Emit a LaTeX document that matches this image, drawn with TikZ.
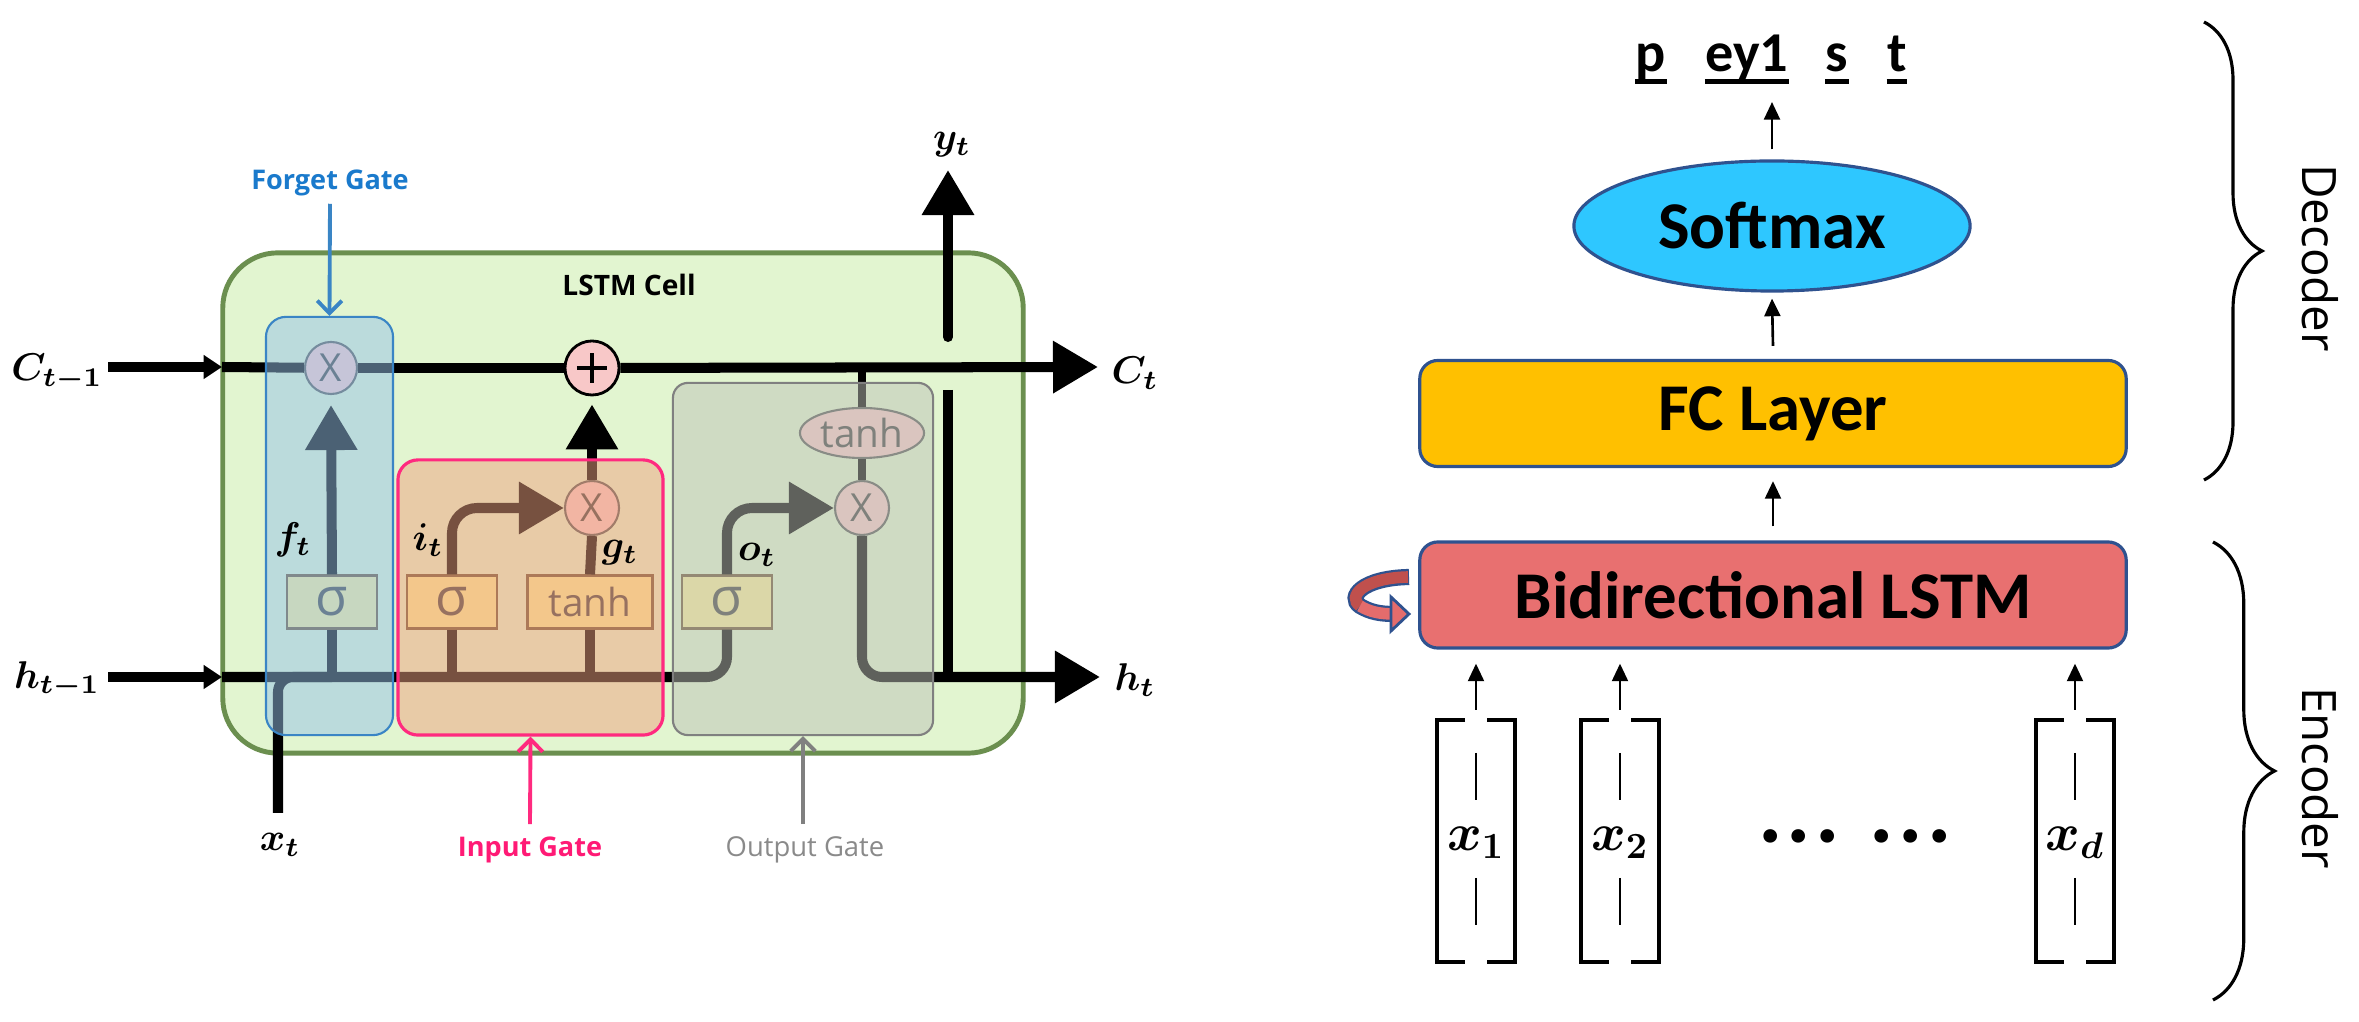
\RequirePackage{fix-cm}
\documentclass[tikz,border=0pt]{standalone}
\usepackage{amsmath}
\usepackage{fontspec}
\setmainfont{Carlito}
\newfontfamily\osans{Open Sans}
\usetikzlibrary{arrows.meta,shapes.geometric,decorations.pathreplacing}
\definecolor{cellfill}{HTML}{E2F5D0}
\definecolor{cellborder}{HTML}{6B8F4F}
\definecolor{sigfill}{HTML}{FAED98}
\definecolor{sigborder}{HTML}{6B5030}
\definecolor{opfill}{HTML}{F8C8C8}
\definecolor{opborder}{HTML}{555555}
\definecolor{optext}{HTML}{404040}
\definecolor{fgfill}{HTML}{96C3E8}
\definecolor{fgborder}{HTML}{3A85C5}
\definecolor{igfill}{HTML}{EEA380}
\definecolor{igborder}{HTML}{FF2A7F}
\definecolor{ogfill}{HTML}{BEC3B8}
\definecolor{ogborder}{HTML}{808080}
\definecolor{fgtext}{HTML}{1A7ACC}
\definecolor{igtext}{HTML}{FF1A75}
\definecolor{ogtext}{HTML}{8A8A8A}
\definecolor{boxborder}{HTML}{2F528F}
\definecolor{softfill}{HTML}{2EC7FF}
\definecolor{fcfill}{HTML}{FFC000}
\definecolor{lstmfill}{HTML}{E87070}
\definecolor{arrdark}{HTML}{C0504D}
\definecolor{arrlight}{HTML}{E46C6C}
\tikzset{
  wire/.style={line width=2.85pt},
  wirethin/.style={line width=2.3pt},
  bighead/.style={-{Triangle[length=12.8pt,width=14.2pt]}},
  smallhead/.style={-{Triangle[length=5.2pt,width=6.5pt]}},
  gatearrow/.style={line width=1.1pt,-{Straight Barb[length=3.5pt,width=7pt]}},
  sigbox/.style={draw=sigborder, fill=sigfill, line width=0.6pt, inner sep=0pt,
    minimum height=0.53cm, text=optext, font=\osans\fontsize{15}{15}\selectfont},
  opcirc/.style={circle, draw=opborder, fill=opfill, line width=0.6pt, inner sep=0pt,
    minimum size=0.52cm, text=optext, font=\osans\fontsize{11}{11}\selectfont},
  gate/.style={rounded corners=0.2cm, fill opacity=0.5, inner sep=0pt},
  mlab/.style={inner sep=0pt, font=\fontsize{11}{13}\selectfont},
  layerbox/.style={draw=boxborder, line width=0.9pt, rounded corners=0.18cm,
    minimum width=7.06cm, minimum height=1.06cm, font=\bfseries\fontsize{19}{23}\selectfont},
  thinarrow/.style={line width=0.75pt, -{Triangle[length=5pt,width=4.5pt]}},
  vecline/.style={line width=1.3pt},
  gatelabel/.style={inner sep=0pt, font=\osans\bfseries\fontsize{7.7}{9}\selectfont},
}
\begin{document}
\begin{tikzpicture}[x=0.01cm,y=-0.01cm]
\useasboundingbox (0,0) rectangle (2359,1022);

% ---------------- LSTM cell ----------------
\node[draw=cellborder, fill=cellfill, line width=1.4pt, rounded corners=0.55cm,
  minimum width=8cm, minimum height=5cm, inner sep=0pt] (cell) at (623,503) {};

% operation nodes
\node[sigbox, minimum width=0.9cm] (sigF) at (332,602) {σ};
\node[sigbox, minimum width=0.9cm] (sigI) at (452,602) {σ};
\node[sigbox, minimum width=1.25cm, font=\osans\fontsize{11}{11}\selectfont] (tanhB) at (590,602) {tanh};
\node[sigbox, minimum width=0.9cm] (sigO) at (727,602) {σ};
\node[opcirc] (xF) at (331,368) {X};
\node[opcirc, draw=black, line width=0.8pt, minimum size=0.54cm] (plus) at (592,368) {};
\draw[line width=0.9pt] ([xshift=-0.15cm]plus.center) -- ([xshift=0.15cm]plus.center);
\draw[line width=0.9pt] ([yshift=-0.15cm]plus.center) -- ([yshift=0.15cm]plus.center);
\node[opcirc, minimum size=0.54cm] (xI) at (592,508) {X};
\node[opcirc, minimum size=0.54cm] (xO) at (862,508) {X};
\node[ellipse, draw=opborder, fill=opfill, line width=0.6pt, inner sep=0pt,
  minimum width=1.24cm, minimum height=0.5cm, text=optext,
  font=\osans\fontsize{11}{11}\selectfont] (tanhE) at (862,433) {tanh};

% cell state line
\coordinate (cA) at (108,367);
\coordinate (cB) at (222,367);
\coordinate (cOut) at (1098,367);
\draw[wire, smallhead] (cA) -- (cB);
\draw[wire] (cB) -- (xF);
\draw[wire] (xF) -- (plus);
\draw[wire, bighead] (plus) -- (cOut);

% hidden state input line
\coordinate (hA) at (108,677);
\coordinate (hB) at (222,677);
\coordinate (xtA) at (278,813);
\draw[wire, smallhead] (hA) -- (hB);
\draw[wire, rounded corners=0.2cm] (hB) -| (sigO.south);
\draw[wire, rounded corners=0.15cm] (xtA) |- (sigF.south |- hB);
\draw[wire] (sigF.south) -- (sigF.south |- hB);
\draw[wire] (sigI.south) -- (sigI.south |- hB);
\draw[wire] (tanhB.south) -- (tanhB.south |- hB);

% gate connectors
\draw[wire, bighead] (sigF.north) -- ([yshift=-0.1cm]xF.south);
\draw[wire, bighead, rounded corners=0.25cm] (sigI.north) |- (xI.west);
\draw[wire] (tanhB.north) -- (xI.south);
\draw[wire, bighead] (xI.north) -- ([yshift=-0.08cm]plus.south);
\draw[wire, bighead, rounded corners=0.25cm] (sigO.north) |- (xO.west);
\draw[wirethin] (tanhE.north |- plus) -- (tanhE.north);
\draw[wirethin] (tanhE.south) -- (xO.north);

% output
\coordinate (hOut) at (1100,677);
\draw[wire, bighead, rounded corners=0.2cm] (xO.south) |- (hOut);
\coordinate (ytLow) at (948,390);
\draw[wire] (ytLow) -- (ytLow |- hOut);
\coordinate (ytA) at (948,337);
\coordinate (ytB) at (948,170);
\draw[wire, line cap=round, bighead] (ytA) -- (ytB);

% gate overlays
\node[gate, fill=fgfill, draw=fgborder, line width=0.6pt, minimum width=1.27cm, minimum height=4.18cm] (fg) at (329.5,526) {};
\node[gate, fill=igfill, draw=igborder, line width=0.9pt, minimum width=2.65cm, minimum height=2.75cm] (ig) at (530.5,597.5) {};
\node[gate, fill=ogfill, draw=ogborder, line width=0.6pt, rounded corners=0.15cm, minimum width=2.6cm, minimum height=3.52cm] (og) at (803,559) {};

% labels
\node[mlab] (Cin) at (57,373) {$\boldsymbol{C_{t-1}}$};
\node[mlab] (hin) at (57,680) {$\boldsymbol{h_{t-1}}$};
\node[mlab] (Cout) at (1135,373) {$\boldsymbol{C_{t}}$};
\node[mlab] (hout) at (1135,680) {$\boldsymbol{h_{t}}$};
\node[mlab] (yt) at (952,145) {$\boldsymbol{y_{t}}$};
\node[mlab] (xt) at (280,845) {$\boldsymbol{x_{t}}$};
\node[mlab] (ft) at (293,540) {$\boldsymbol{f_{t}}$};
\node[mlab] (it) at (428,540) {$\boldsymbol{i_{t}}$};
\node[mlab] (gt) at (620,553) {$\boldsymbol{g_{t}}$};
\node[mlab] (ot) at (757,555) {$\boldsymbol{o_{t}}$};
\node[inner sep=0pt, font=\osans\bfseries\fontsize{8}{9}\selectfont] (celllab) at (629,285) {LSTM Cell};

\node[gatelabel, text=fgtext] (fgl) at (330,183) {Forget Gate};
\draw[gatearrow, fgborder] ([yshift=-0.07cm]fgl.south) -- (fg.north);
\node[gatelabel, text=igtext] (igl) at (530,850) {Input Gate};
\draw[gatearrow, igborder] ([yshift=0.12cm]igl.north) -- (ig.south);
\node[inner sep=0pt, font=\osans\fontsize{7.8}{9}\selectfont, text=ogtext] (ogl) at (805,850) {Output Gate};
\draw[gatearrow, ogborder] ([yshift=0.12cm]ogl.north -| og.south) -- (og.south);

% ---------------- Encoder / decoder ----------------
\node[ellipse, draw=boxborder, fill=softfill, line width=0.9pt, inner sep=0pt,
  minimum width=3.96cm, minimum height=1.3cm, font=\bfseries\fontsize{19}{23}\selectfont] (soft) at (1772,226) {Softmax};
\node[layerbox, fill=fcfill] (fc) at (1773,413.5) {FC Layer};
\node[layerbox, fill=lstmfill] (bilstm) at (1773,595) {Bidirectional LSTM};

\foreach \px/\nm/\tx in {1651/ph1/p, 1747/ph2/ey1, 1837/ph3/s, 1897/ph4/t} {
  \node[anchor=base, inner sep=0pt, font=\bfseries\fontsize{16}{19}\selectfont] (\nm) at (\px,72) {\vphantom{py}\tx};
  \draw[line width=1.2pt] (\nm.south west) -- (\nm.south east);
}
\coordinate (phArrow) at (1772,102);
\draw[thinarrow] ([yshift=0.1cm]soft.north) -- (phArrow);
\draw[thinarrow] ([yshift=0.13cm]fc.north) -- ([yshift=-0.06cm]soft.south);
\draw[thinarrow] ([yshift=0.14cm]bilstm.north) -- ([yshift=-0.13cm]fc.south);

% recurrent curved arrow
\draw[boxborder, line width=4.6pt] (1409,577) .. controls (1362,578) and (1347,597) .. (1360,606)
  .. controls (1370,612) and (1380,614) .. (1394,614);
\draw[arrdark, line width=3.3pt] (1408,577) .. controls (1362,578) and (1347,597) .. (1360,606);
\draw[arrlight, line width=3.3pt] (1360,606) .. controls (1370,612) and (1380,614) .. (1395,614);
\fill[arrlight, draw=boxborder, line width=0.8pt] (1391,597) -- (1409,614) -- (1391,631) -- cycle;

% input vectors
\foreach \c/\nm/\lab in {1476/v1/x_1, 1620/v2/x_2, 2075/vd/x_d} {
  \node[inner sep=0pt, font=\fontsize{15}{18}\selectfont] (\nm) at (\c,843) {$\boldsymbol{\lab}$};
  \draw[vecline] (\c-11,720) -- (\c-39,720) -- (\c-39,962) -- (\c-11,962);
  \draw[vecline] (\c+11,720) -- (\c+39,720) -- (\c+39,962) -- (\c+11,962);
  \draw[line width=0.6pt] (\c,753) -- (\c,800);
  \draw[line width=0.6pt] (\c,878) -- (\c,925);
  \coordinate (\nm-top) at (\c,720);
  \draw[thinarrow] ([yshift=0.1cm]\nm-top) -- ([yshift=-0.14cm]bilstm.south -| \nm-top);
}
\node[inner sep=0pt, font=\bfseries\fontsize{26}{30}\selectfont] (dots) at (1855,836)
  {.\kern1.2pt.\kern1.2pt.\hspace{0.3cm}.\kern1.2pt.\kern1.2pt.};

% braces
\draw[decorate, decoration={brace, amplitude=16.5pt}, line width=0.9pt] (2204,22) -- (2204,480);
\draw[decorate, decoration={brace, amplitude=17.5pt}, line width=0.9pt] (2213,542) -- (2213,1000);
\node[rotate=-90, inner sep=0pt, font=\osans\fontsize{13.5}{16}\selectfont] (dec) at (2320,258) {Decoder};
\node[rotate=-90, inner sep=0pt, font=\osans\fontsize{13.5}{16}\selectfont] (enc) at (2320,778) {Encoder};
\end{tikzpicture}
\end{document}
